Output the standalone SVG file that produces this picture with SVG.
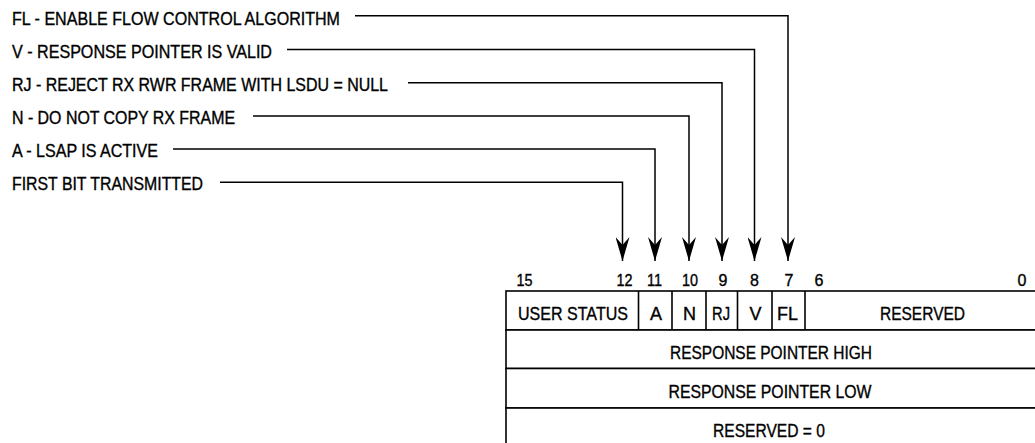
<svg xmlns="http://www.w3.org/2000/svg" width="1035" height="443" viewBox="0 0 1035 443">
<style>
text{font-family:"Liberation Sans",Arial,sans-serif;fill:#000;stroke:#000;stroke-width:0.35px}
.lbl{font-size:17.5px}
.num{font-size:16px;text-anchor:middle}
.cell{font-size:18px;text-anchor:middle}
.conn{fill:none;stroke:#000;stroke-width:1.5}
.tbl{fill:#fff;stroke:#000;stroke-width:1.6}
</style>
<defs>
<marker id="ah" viewBox="0 0 24 14" refX="24" refY="7" markerWidth="24" markerHeight="14" markerUnits="userSpaceOnUse" orient="auto">
<path d="M0,0 L24,7 L0,14 L8,7 Z" fill="#000"/>
</marker>
</defs>
<g id="labels">
<text class="lbl" x="12" y="25" textLength="328" lengthAdjust="spacingAndGlyphs">FL - ENABLE FLOW CONTROL ALGORITHM</text>
<text class="lbl" x="12" y="58" textLength="260" lengthAdjust="spacingAndGlyphs">V - RESPONSE POINTER IS VALID</text>
<text class="lbl" x="12" y="91" textLength="376" lengthAdjust="spacingAndGlyphs">RJ - REJECT RX RWR FRAME WITH LSDU = NULL</text>
<text class="lbl" x="12" y="124" textLength="223" lengthAdjust="spacingAndGlyphs">N - DO NOT COPY RX FRAME</text>
<text class="lbl" x="12" y="157" textLength="146" lengthAdjust="spacingAndGlyphs">A - LSAP IS ACTIVE</text>
<text class="lbl" x="12" y="190" textLength="191" lengthAdjust="spacingAndGlyphs">FIRST BIT TRANSMITTED</text>
</g>
<g id="connectors">
<path class="conn" d="M355,15.7 H788 V261" marker-end="url(#ah)"/>
<path class="conn" d="M287,49.5 H754.5 V261" marker-end="url(#ah)"/>
<path class="conn" d="M408,82.7 H722 V261" marker-end="url(#ah)"/>
<path class="conn" d="M253,116 H689 V261" marker-end="url(#ah)"/>
<path class="conn" d="M173,149 H655 V261" marker-end="url(#ah)"/>
<path class="conn" d="M220,182.3 H622.5 V261" marker-end="url(#ah)"/>
</g>
<g id="bit-numbers">
<text class="num" x="524.5" y="285.5" textLength="16" lengthAdjust="spacingAndGlyphs">15</text>
<text class="num" x="624.5" y="285.5" textLength="16" lengthAdjust="spacingAndGlyphs">12</text>
<text class="num" x="654.5" y="285.5" textLength="15" lengthAdjust="spacingAndGlyphs">11</text>
<text class="num" x="690" y="285.5" textLength="16" lengthAdjust="spacingAndGlyphs">10</text>
<text class="num" x="723" y="285.5">9</text>
<text class="num" x="754.5" y="285.5">8</text>
<text class="num" x="789" y="285.5">7</text>
<text class="num" x="819" y="285.5">6</text>
<text class="num" x="1022" y="285.5">0</text>
</g>
<g id="row1">
<rect class="tbl" x="506" y="291" width="540" height="39"/>
<line class="tbl" x1="638.5" y1="291" x2="638.5" y2="330"/>
<line class="tbl" x1="672" y1="291" x2="672" y2="330"/>
<line class="tbl" x1="706" y1="291" x2="706" y2="330"/>
<line class="tbl" x1="737.5" y1="291" x2="737.5" y2="330"/>
<line class="tbl" x1="772" y1="291" x2="772" y2="330"/>
<line class="tbl" x1="805" y1="291" x2="805" y2="330"/>
<text class="cell" x="573" y="320" textLength="110" lengthAdjust="spacingAndGlyphs">USER STATUS</text>
<text class="cell" x="656" y="320">A</text>
<text class="cell" x="689.5" y="320">N</text>
<text class="cell" x="721" y="320" textLength="18" lengthAdjust="spacingAndGlyphs">RJ</text>
<text class="cell" x="755.5" y="320">V</text>
<text class="cell" x="787.5" y="320" textLength="21" lengthAdjust="spacingAndGlyphs">FL</text>
<text class="cell" x="922.5" y="320" textLength="85" lengthAdjust="spacingAndGlyphs">RESERVED</text>
</g>
<g id="row2">
<rect class="tbl" x="506" y="330" width="540" height="38.5"/>
<text class="cell" x="771" y="359" textLength="202" lengthAdjust="spacingAndGlyphs">RESPONSE POINTER HIGH</text>
</g>
<g id="row3">
<rect class="tbl" x="506" y="368.5" width="540" height="39.5"/>
<text class="cell" x="770" y="398" textLength="203" lengthAdjust="spacingAndGlyphs">RESPONSE POINTER LOW</text>
</g>
<g id="row4">
<rect class="tbl" x="506" y="408" width="540" height="45"/>
<text class="cell" x="769" y="437" textLength="112" lengthAdjust="spacingAndGlyphs">RESERVED = 0</text>
</g>
</svg>
